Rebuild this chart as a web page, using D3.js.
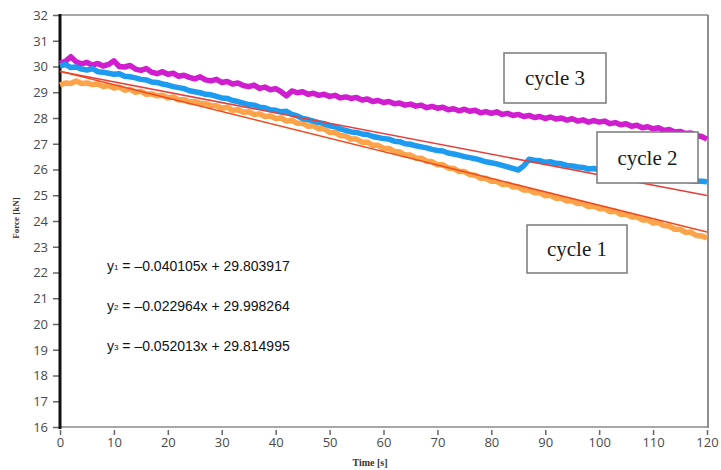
<!DOCTYPE html>
<html>
<head>
<meta charset="utf-8">
<script src="https://cdn.jsdelivr.net/npm/d3@7"></script>
<style>
  body { margin: 0; background: #fff; }
  svg { display: block; }
</style>
</head>
<body>
<svg id="chart" width="721" height="470"></svg>
<script>
// force readings, one per second, t = 0..120 s
var cycle1 = [29.28,29.36,29.34,29.44,29.34,29.36,29.30,29.32,29.22,29.26,29.16,29.20,29.08,29.12,29.00,29.04,28.92,28.94,28.86,28.88,
  28.78,28.82,28.70,28.72,28.62,28.64,28.56,28.56,28.48,28.48,28.38,28.42,28.30,28.32,28.22,28.24,28.14,28.16,28.06,28.08,
  27.98,28.00,27.88,27.90,27.80,27.80,27.68,27.70,27.58,27.58,27.44,27.44,27.32,27.30,27.18,27.18,27.06,27.06,26.94,26.94,
  26.82,26.82,26.70,26.68,26.56,26.56,26.44,26.44,26.32,26.30,26.18,26.18,26.06,26.04,25.92,25.92,25.80,25.78,25.66,25.66,
  25.54,25.54,25.42,25.44,25.32,25.32,25.20,25.20,25.10,25.10,24.98,25.00,24.88,24.88,24.78,24.78,24.68,24.68,24.56,24.58,
  24.48,24.48,24.36,24.38,24.26,24.26,24.16,24.16,24.04,24.04,23.92,23.94,23.82,23.80,23.68,23.68,23.56,23.56,23.44,23.42,23.34];

var cycle2 = [30.02,30.08,29.96,29.98,29.90,29.86,29.92,29.80,29.78,29.74,29.70,29.72,29.62,29.60,29.56,29.50,29.48,29.40,29.38,29.32,
  29.28,29.22,29.18,29.14,29.06,29.02,28.98,28.92,28.90,28.84,28.78,28.76,28.68,28.64,28.58,28.52,28.50,28.42,28.40,28.32,
  28.30,28.24,28.26,28.14,28.08,27.98,27.94,27.88,27.82,27.78,27.70,27.66,27.58,27.52,27.46,27.44,27.38,27.36,27.28,27.24,
  27.20,27.18,27.10,27.08,27.00,26.98,26.92,26.88,26.84,26.78,26.74,26.72,26.64,26.60,26.56,26.50,26.46,26.42,26.36,26.30,
  26.26,26.22,26.16,26.10,26.04,25.98,26.14,26.40,26.36,26.34,26.28,26.30,26.24,26.22,26.16,26.14,26.10,26.08,26.02,26.04,
  25.98,25.96,25.92,25.90,25.86,25.84,25.82,25.78,25.76,25.74,25.72,25.70,25.66,25.64,25.62,25.60,25.58,25.56,25.55,25.54,25.52];

var cycle3 = [30.12,30.20,30.38,30.18,30.10,30.16,30.05,30.12,30.02,30.08,30.22,30.00,29.98,30.04,29.90,29.85,29.92,29.78,29.72,29.80,
  29.70,29.74,29.62,29.66,29.58,29.52,29.60,29.48,29.44,29.50,29.38,29.42,29.32,29.36,29.26,29.22,29.28,29.15,29.20,29.10,
  29.14,29.02,28.86,29.05,28.98,29.02,28.92,28.96,28.88,28.92,28.84,28.88,28.78,28.82,28.76,28.80,28.70,28.74,28.64,28.68,
  28.60,28.64,28.55,28.58,28.50,28.54,28.46,28.50,28.40,28.45,28.38,28.42,28.32,28.36,28.28,28.34,28.26,28.30,28.20,28.25,
  28.18,28.24,28.14,28.18,28.10,28.14,28.06,28.10,28.02,28.06,27.98,28.04,27.96,28.00,27.92,27.97,27.88,27.93,27.84,27.90,
  27.84,27.88,27.78,27.82,27.74,27.78,27.68,27.72,27.62,27.66,27.58,27.62,27.52,27.55,27.46,27.48,27.40,27.42,27.32,27.28,27.18];

// linear fits shown on the chart
var fitSlopes = [-0.040105, -0.022964, -0.052013];
var fitIntercepts = [29.803917, 29.998264, 29.814995];
var fitLabels = ["y1 = \u20130.040105x + 29.803917", "y2 = \u20130.022964x + 29.998264", "y3 = \u20130.052013x + 29.814995"];

var xTicks = [0,10,20,30,40,50,60,70,80,90,100,110,120];
var yTicks = [16,17,18,19,20,21,22,23,24,25,26,27,28,29,30,31,32];

var svg = d3.select("#chart");

var x = d3.scaleLinear().domain([0, 120]).range([60, 707]);
var y = d3.scaleLinear().domain([16, 32]).range([427, 15]);

// frame
svg.append("line").attr("x1", 60).attr("x2", 708).attr("y1", 15).attr("y2", 15)
  .attr("stroke", "#8a8a8a").attr("stroke-width", 1.5);
svg.append("line").attr("x1", 708).attr("x2", 708).attr("y1", 15).attr("y2", 428)
  .attr("stroke", "#6a6a6a").attr("stroke-width", 1.5);
svg.append("line").attr("x1", 60).attr("x2", 708).attr("y1", 427).attr("y2", 427)
  .attr("stroke", "#8a8a8a").attr("stroke-width", 1.5);

// axes
var yAxis = svg.append("g").attr("transform", "translate(57,0)")
  .call(d3.axisLeft(y).tickValues(yTicks).tickSize(7).tickPadding(2));
var xAxis = svg.append("g").attr("transform", "translate(0,430)")
  .call(d3.axisBottom(x).tickValues(xTicks).tickSize(5).tickPadding(3));

[yAxis, xAxis].forEach(function(g) {
  g.select(".domain").remove();
  g.selectAll(".tick line").attr("stroke", "#666").attr("stroke-width", 1.5);
  g.selectAll(".tick text")
    .style("font-family", "'Open Sans', 'Noto Sans', sans-serif")
    .style("font-size", "13px")
    .attr("fill", "#4a4a4a");
});
yAxis.selectAll(".tick line").attr("transform", "translate(3,0)");
yAxis.selectAll(".tick text").attr("dy", "0.34em");

svg.append("line").attr("x1", 60).attr("x2", 60).attr("y1", 14).attr("y2", 429)
  .attr("stroke", "#111").attr("stroke-width", 3);

// data
var line = d3.line()
  .x(function(d, i) { return x(i); })
  .y(function(d) { return y(d); });

var series = [
  { values: cycle3, color: "#cf1dcf" },
  { values: cycle1, color: "#fda44a" },
  { values: cycle2, color: "#1d9bf0" }
];

svg.selectAll(".series")
  .data(series)
  .enter()
  .append("path")
    .attr("class", "series")
    .attr("d", function(d) { return line(d.values); })
    .attr("fill", "none")
    .attr("stroke", function(d) { return d.color; })
    .attr("stroke-width", 5.5)
    .attr("stroke-linejoin", "round");

// fit lines (only cycle 2 and cycle 1 fits are visible)
var fits = [
  { k: 0, color: "#e6403c" },
  { k: 2, color: "#f04a1e" }
];
svg.selectAll(".fit")
  .data(fits)
  .enter()
  .append("line")
    .attr("x1", x(0))
    .attr("y1", function(d) { return y(fitIntercepts[d.k]); })
    .attr("x2", x(120))
    .attr("y2", function(d) { return y(fitIntercepts[d.k] + fitSlopes[d.k] * 120); })
    .attr("stroke", function(d) { return d.color; })
    .attr("stroke-width", 1.6);

// equations
var eq = svg.selectAll(".eq")
  .data(fitLabels)
  .enter()
  .append("text")
    .attr("class", "eq")
    .attr("x", 107)
    .attr("y", function(d, i) { return 271 + i * 40; })
    .style("font-family", "'Liberation Sans', Arial, sans-serif")
    .style("font-size", "14px")
    .attr("fill", "#111");
eq.append("tspan").text("y");
eq.append("tspan").style("font-size", "8px").attr("dy", -1).text(function(d) { return d.charAt(1); });
eq.append("tspan").attr("dy", 1).text(function(d) { return d.slice(2); });

// cycle boxes
var boxes = [
  { label: "cycle 3", x0: 504, y0: 53, w: 102, h: 50 },
  { label: "cycle 2", x0: 597, y0: 132, w: 101, h: 51 },
  { label: "cycle 1", x0: 527, y0: 225, w: 100, h: 48 }
];
var box = svg.selectAll(".box")
  .data(boxes)
  .enter()
  .append("g")
    .attr("class", "box");
box.append("rect")
  .attr("x", function(d) { return d.x0; })
  .attr("y", function(d) { return d.y0; })
  .attr("width", function(d) { return d.w; })
  .attr("height", function(d) { return d.h; })
  .attr("fill", "#fff")
  .attr("stroke", "#7a7a7a")
  .attr("stroke-width", 1.5);
box.append("text")
  .attr("x", function(d) { return d.x0 + d.w / 2; })
  .attr("y", function(d) { return d.y0 + d.h / 2 + 7; })
  .attr("text-anchor", "middle")
  .style("font-family", "'Liberation Serif', 'Times New Roman', serif")
  .style("font-size", "21px")
  .attr("fill", "#1a1a1a")
  .text(function(d) { return d.label; });

// axis titles
svg.append("text")
  .attr("transform", "translate(19,218) rotate(-90)")
  .attr("text-anchor", "middle")
  .style("font-family", "'Liberation Serif', 'Times New Roman', serif")
  .style("font-size", "9px")
  .style("font-weight", "bold")
  .attr("fill", "#333")
  .text("Force [kN]");
svg.append("text")
  .attr("x", 370)
  .attr("y", 466)
  .attr("text-anchor", "middle")
  .style("font-family", "'Liberation Serif', 'Times New Roman', serif")
  .style("font-size", "10px")
  .style("font-weight", "bold")
  .attr("fill", "#333")
  .text("Time [s]");
</script>
</body>
</html>
